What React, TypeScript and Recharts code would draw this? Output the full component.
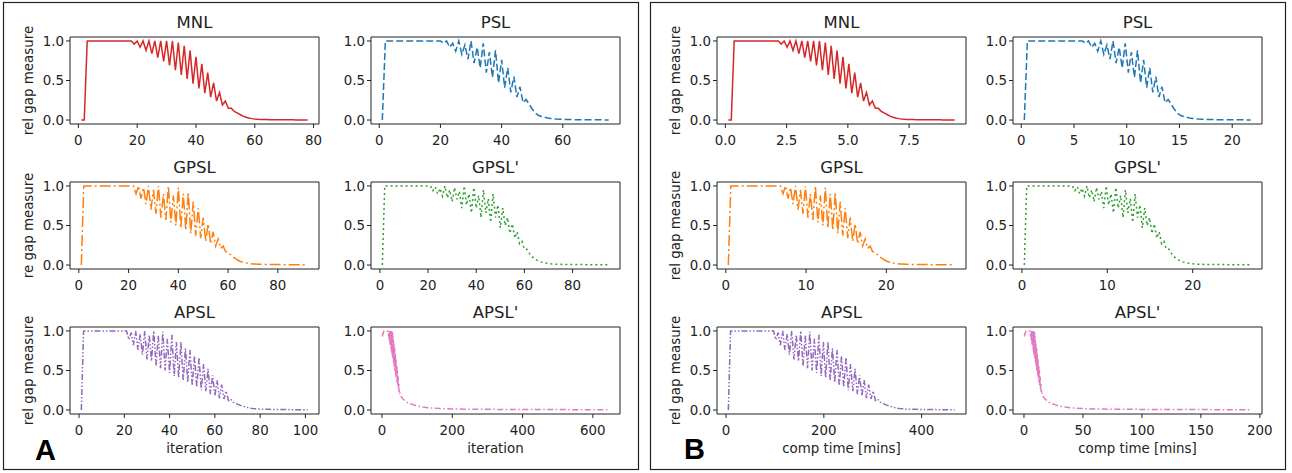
import { Line, LineChart, ReferenceArea, XAxis, YAxis } from 'recharts'

const methods = ['MNL', 'PSL', 'GPSL', "GPSL'", 'APSL', "APSL'"]

// relative gap per iteration, index 0 = iteration 1
const mnlGap = [
  0, 0, 1, 1, 1, 1, 1, 1, 1, 1, 1, 1, 1, 1, 1, 1, 1,
  1, 0.96, 1, 0.92, 1, 0.88, 1, 0.84, 1, 0.79, 1, 0.74, 1, 0.69, 1, 0.63,
  0.98, 0.57, 0.94, 0.52, 0.88, 0.46, 0.8, 0.4, 0.71, 0.34, 0.6, 0.29, 0.47, 0.24, 0.35, 0.19,
  0.24, 0.15, 0.15, 0.11, 0.09, 0.07, 0.05, 0.035, 0.025, 0.018, 0.013, 0.01,
  0.008, 0.007, 0.006, 0.005, 0.005, 0.004, 0.004, 0.004, 0.003, 0.003, 0.003, 0.003, 0.002, 0.002, 0.002, 0.002, 0.002,
]

const pslGap = [
  0, 1, 1, 1, 1, 1, 1, 1, 1, 1, 1, 1, 1, 1, 1, 1, 1, 1, 1, 1,
  0.97, 1, 0.92, 0.97, 0.87, 1, 0.83, 0.95, 0.77, 1,
  0.72, 0.92, 0.66, 0.97, 0.6, 0.86, 0.54, 0.88, 0.47, 0.76,
  0.41, 0.66, 0.35, 0.55, 0.29, 0.42, 0.22, 0.26, 0.2, 0.14,
  0.09, 0.06, 0.045, 0.035, 0.025, 0.02, 0.015, 0.012, 0.01, 0.008,
  0.007, 0.006, 0.006, 0.005, 0.005, 0.004, 0.004, 0.004, 0.003, 0.003, 0.003, 0.003, 0.002, 0.002, 0.002,
]

const gpslGap = [
  0, 1, 1, 1, 1, 1, 1, 1, 1, 1, 1, 1, 1, 1, 1, 1, 1, 1, 1, 1, 1,
  1, 0.9, 1, 0.84, 0.98, 0.77, 1, 0.7, 0.95, 0.65,
  1, 0.6, 0.9, 0.57, 1, 0.54, 0.88, 0.5, 0.98, 0.47,
  0.9, 0.44, 0.92, 0.4, 0.8, 0.37, 0.72, 0.34, 0.6, 0.3,
  0.52, 0.27, 0.42, 0.24, 0.33, 0.21, 0.24, 0.17, 0.16, 0.13,
  0.1, 0.08, 0.06, 0.045, 0.035, 0.028, 0.022, 0.018, 0.014, 0.012, 0.01,
  0.009, 0.009, 0.008, 0.008, 0.007, 0.007, 0.006, 0.006, 0.006, 0.005,
  0.005, 0.005, 0.004, 0.004, 0.004, 0.004, 0.003, 0.003, 0.003, 0.003,
]

const gpslPrimeGap = [
  0, 1, 1, 1, 1, 1, 1, 1, 1, 1, 1, 1, 1, 1, 1, 1, 1, 1, 1, 1,
  1, 0.94, 0.99, 0.9, 0.97, 0.87, 1, 0.85, 0.95, 0.8,
  0.98, 0.83, 0.93, 0.72, 1, 0.76, 0.9, 0.66, 0.98, 0.72,
  0.88, 0.6, 0.95, 0.66, 0.84, 0.54, 0.9, 0.6, 0.76, 0.47,
  0.72, 0.5, 0.6, 0.4, 0.52, 0.34, 0.42, 0.27, 0.3, 0.2, 0.2,
  0.15, 0.11, 0.085, 0.065, 0.05, 0.04, 0.032, 0.025, 0.02, 0.016, 0.013, 0.01,
  0.009, 0.009, 0.008, 0.008, 0.008, 0.007, 0.007, 0.007, 0.006, 0.006, 0.006,
  0.005, 0.005, 0.005, 0.005, 0.004, 0.004, 0.004, 0.004, 0.003, 0.003, 0.003,
]

const apslGap = [
  0, 1, 1, 1, 1, 1, 1, 1, 1, 1, 1, 1, 1, 1, 1, 1, 1, 1, 1, 1,
  1, 0.89, 0.98, 0.82, 1, 0.76, 0.96, 0.7, 1, 0.64,
  0.95, 0.62, 1, 0.56, 0.94, 0.53, 0.99, 0.5, 0.9, 0.47,
  0.95, 0.43, 0.86, 0.41, 0.86, 0.37, 0.78, 0.35, 0.76, 0.31,
  0.68, 0.29, 0.66, 0.25, 0.58, 0.24, 0.52, 0.2, 0.44, 0.18,
  0.38, 0.15, 0.32, 0.14, 0.24, 0.12,
  0.14, 0.1, 0.09, 0.075, 0.062, 0.052, 0.043, 0.035, 0.028, 0.022, 0.018, 0.015, 0.012, 0.011,
  0.01, 0.01, 0.009, 0.009, 0.008, 0.008, 0.007, 0.007, 0.007, 0.006, 0.006,
  0.006, 0.005, 0.005, 0.005, 0.005, 0.004, 0.004, 0.004, 0.004, 0.004,
]

// APSL' is sparse, so it keeps its own iteration numbers
const apslPrimeIter = [
  1, 3, 6, 10, 14, 17,
  18, 19, 20, 21, 22, 23, 24, 25, 26, 27, 28, 29, 30, 31, 32, 33, 34,
  35, 36, 37, 38, 39, 40, 41, 42, 43, 44, 45, 46, 47, 48, 49, 50, 51,
  53, 56, 60, 65, 70, 80, 90, 100, 115, 130, 150, 175, 200, 250, 300,
  350, 400, 450, 500, 550, 600, 645,
]
const apslPrimeGap = [
  0.93, 0.97, 1, 1, 1, 1,
  1, 0.93, 1, 0.88, 1, 0.83, 1, 0.78, 1, 0.73, 1, 0.68, 1, 0.64, 0.93, 0.59, 0.86,
  0.54, 0.78, 0.49, 0.71, 0.44, 0.64, 0.4, 0.57, 0.35, 0.5, 0.31, 0.42, 0.27, 0.34, 0.23, 0.26, 0.2,
  0.19, 0.16, 0.14, 0.12, 0.1, 0.08, 0.065, 0.05, 0.04, 0.03, 0.022, 0.017, 0.013, 0.01, 0.009,
  0.008, 0.007, 0.006, 0.006, 0.005, 0.005, 0.004,
]

const minsPerIter = [0.12, 0.29, 0.31, 0.282, 4.63, 0.298]

const iterTicks = [
  [0, 20, 40, 60, 80],
  [0, 20, 40, 60],
  [0, 20, 40, 60, 80],
  [0, 20, 40, 60, 80],
  [0, 20, 40, 60, 80, 100],
  [0, 200, 400, 600],
]
const minTicks = [
  [0, 2.5, 5, 7.5],
  [0, 5, 10, 15, 20],
  [0, 10, 20],
  [0, 10, 20],
  [0, 200, 400],
  [0, 50, 100, 150, 200],
]
const gapTicks = [0, 0.5, 1]

const colors = ['#d62728', '#1f77b4', '#ff7f0e', '#2ca02c', '#9467bd', '#e377c2']
const dashes = [undefined, '7 3', '11 3 2 3', '2 3', '6 2 1.5 2 1.5 2', '6 2.5 1.5 2.5']

const iterations = [
  mnlGap.map((_, i) => i + 1),
  pslGap.map((_, i) => i + 1),
  gpslGap.map((_, i) => i + 1),
  gpslPrimeGap.map((_, i) => i + 1),
  apslGap.map((_, i) => i + 1),
  apslPrimeIter,
]
const gaps = [mnlGap, pslGap, gpslGap, gpslPrimeGap, apslGap, apslPrimeGap]

const plotW = 249
const plotH = 87
const colLeft = [70, 371, 717, 1013]
const rowTop = [37, 182, 327]
const ink = '#222'
const font = "'DejaVu Sans', sans-serif"

type Point = { x: number; y: number }

function Subplot({ data, color, dash, ticks, fmt, left, top }: {
  data: Point[]
  color: string
  dash?: string
  ticks: number[]
  fmt: (v: number) => string
  left: number
  top: number
}) {
  const xs = data.map((d) => d.x)
  const lo = Math.min(...xs)
  const hi = Math.max(...xs)
  const dom: [number, number] = [lo - 0.05 * (hi - lo), hi + 0.05 * (hi - lo)]
  return (
    <div style={{ position: 'absolute', left: left - 50, top: top - 5 }}>
      <LineChart width={plotW + 60} height={plotH + 35} data={data} margin={{ top: 5, right: 10, bottom: 5, left: 0 }}>
        <XAxis
          type="number"
          dataKey="x"
          domain={dom}
          ticks={ticks}
          interval={0}
          tickFormatter={fmt}
          allowDataOverflow
          height={25}
          tickSize={4}
          tickMargin={7}
          axisLine={false}
          stroke={ink}
          tick={{ fontSize: 13.4, fill: ink }}
        />
        <YAxis
          type="number"
          domain={[-0.05, 1.05]}
          ticks={gapTicks}
          interval={0}
          tickFormatter={(v: number) => v.toFixed(1)}
          allowDataOverflow
          width={50}
          tickSize={4}
          tickMargin={2}
          axisLine={false}
          stroke={ink}
          tick={{ fontSize: 13.4, fill: ink }}
        />
        <ReferenceArea x1={dom[0]} x2={dom[1]} y1={-0.05} y2={1.05} fill="none" stroke={ink} strokeWidth={1} ifOverflow="visible" />
        <Line
          type="linear"
          dataKey="y"
          stroke={color}
          strokeWidth={1.5}
          strokeDasharray={dash}
          dot={false}
          isAnimationActive={false}
        />
      </LineChart>
    </div>
  )
}

function fmtTick(v: number, ticks: number[]) {
  return ticks.some((t) => !Number.isInteger(t)) ? v.toFixed(1) : String(v)
}

export default function App() {
  const plots = []
  const texts = []
  for (let panel = 0; panel < 2; panel++) {
    for (let m = 0; m < methods.length; m++) {
      const row = Math.floor(m / 2)
      const col = panel * 2 + (m % 2)
      const left = colLeft[col]
      const top = rowTop[row]
      const ticks = panel === 0 ? iterTicks[m] : minTicks[m]
      const data = iterations[m].map((it, i) => ({
        x: panel === 0 ? it : it * minsPerIter[m],
        y: gaps[m][i],
      }))
      plots.push(
        <Subplot
          key={`${panel}-${m}`}
          data={data}
          color={colors[m]}
          dash={dashes[m]}
          ticks={ticks}
          fmt={(v) => fmtTick(v, ticks)}
          left={left}
          top={top}
        />,
      )
      texts.push(
        <text key={`t${panel}-${m}`} x={left + plotW / 2} y={top - 9} textAnchor="middle" fontSize={16.5}>
          {methods[m]}
        </text>,
      )
      if (m % 2 === 0) {
        const cx = left - 42
        const cy = top + plotH / 2
        texts.push(
          <text key={`y${panel}-${m}`} x={cx} y={cy} dy="0.35em" textAnchor="middle" fontSize={13.4} transform={`rotate(-90 ${cx} ${cy})`}>
            {panel === 0 && row === 1 ? 're gap measure' : 'rel gap measure'}
          </text>,
        )
      }
      if (row === 2) {
        texts.push(
          <text key={`x${panel}-${m}`} x={left + plotW / 2} y={453} textAnchor="middle" fontSize={13.4}>
            {panel === 0 ? 'iteration' : 'comp time [mins]'}
          </text>,
        )
      }
    }
  }

  return (
    <div style={{ position: 'absolute', left: 0, top: 0, width: 1292, height: 473, background: '#fff', fontFamily: font, color: ink }}>
      <svg width={1292} height={473} style={{ position: 'absolute', left: 0, top: 0 }} fontFamily={font} fill={ink}>
        <rect x={3.5} y={2.5} width={635} height={467} fill="none" stroke={ink} strokeWidth={1.2} />
        <rect x={650.5} y={2.5} width={635} height={467} fill="none" stroke={ink} strokeWidth={1.2} />
        {texts}
        <text x={35} y={460} fontSize={29} fontWeight="bold" fontFamily="'Liberation Sans', sans-serif" fill="#000">A</text>
        <text x={684} y={459} fontSize={29} fontWeight="bold" fontFamily="'Liberation Sans', sans-serif" fill="#000">B</text>
      </svg>
      {plots}
    </div>
  )
}
